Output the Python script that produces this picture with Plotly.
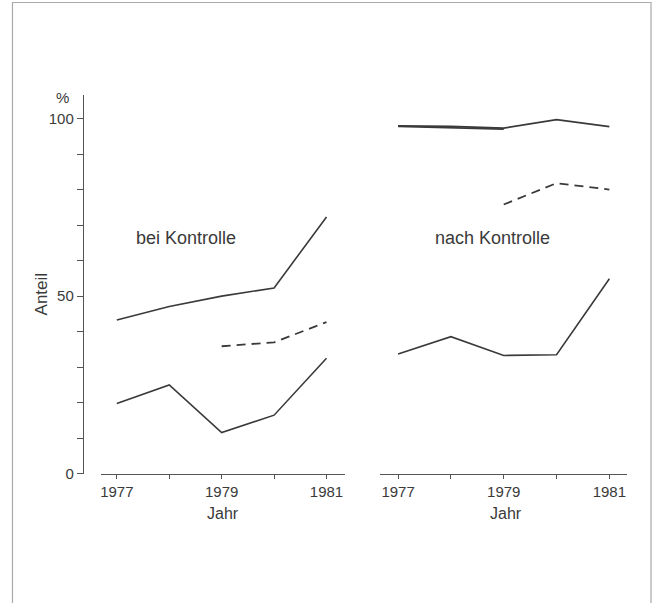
import plotly.graph_objects as go

W, H = 659, 603
HE = 594  # effective drawing height observed in the viewer

years = [1977, 1978, 1979, 1980, 1981]
years_dash = [1979, 1980, 1981]
years_early = [1977, 1978, 1979]

# bei Kontrolle (left panel)
bei_upper = [43.3, 47.1, 50.0, 52.3, 72.3]
bei_dash = [35.9, 37.0, 42.7]
bei_lower = [19.8, 25.0, 11.6, 16.5, 32.5]

# nach Kontrolle (right panel)
nach_upper = [97.9, 97.8, 97.3, 99.7, 97.7]
nach_upper_b = [97.8, 97.4, 97.0]
nach_dash = [75.8, 81.8, 80.0]
nach_lower = [33.7, 38.6, 33.3, 33.5, 54.9]

y_ticks = list(range(0, 101, 10))
y_ticktext = [str(v) if v in (0, 50, 100) else "" for v in y_ticks]
x_ticktext = [str(v) if v in (1977, 1979, 1981) else "" for v in years]

LINE = "#3a3a3a"
TXT = "#3a3a3a"
FONT = "Liberation Sans"

def px(x):
    return x / W

def py(y):
    return 1 - y / HE

fig = go.Figure()

def add(x, y, xa, dash="solid", width=1.6):
    fig.add_trace(go.Scatter(x=x, y=y, xaxis=xa, yaxis="y", mode="lines",
                             line=dict(color=LINE, width=width, dash=dash),
                             showlegend=False, hoverinfo="skip"))

add(years, bei_upper, "x")
add(years_dash, bei_dash, "x", dash="9px,6px", width=1.8)
add(years, bei_lower, "x")
add(years, nach_upper, "x2", width=1.8)
add(years_early, nach_upper_b, "x2", width=1.8)
add(years_dash, nach_dash, "x2", dash="9px,6px", width=1.8)
add(years, nach_lower, "x2")

y_bottom, y_top = 473, 95
y_max = (y_bottom - y_top) / 3.547

xaxis_common = dict(
    tickmode="array", tickvals=years, ticktext=x_ticktext,
    showline=True, linecolor="#555", linewidth=1.2,
    ticks="outside", ticklen=4, tickcolor="#555", tickwidth=1.2,
    showgrid=False, zeroline=False,
    tickfont=dict(family=FONT, size=15, color=TXT),
    fixedrange=True,
)

fig.update_layout(
    width=W, height=H,
    margin=dict(l=0, r=0, t=0, b=0),
    paper_bgcolor="white", plot_bgcolor="white",
    xaxis=dict(domain=[px(100), px(345)],
               range=[1977 - 16 / 52.5, 1981 + 19 / 52.5],
               anchor="y", **xaxis_common),
    xaxis2=dict(domain=[px(380), px(627)],
                range=[1977 - 17.7 / 52.9, 1981 + 17.7 / 52.9],
                anchor="y", **xaxis_common),
    yaxis=dict(domain=[py(y_bottom), py(y_top)], range=[0, y_max],
               anchor="free", position=px(82),
               tickmode="array", tickvals=y_ticks, ticktext=y_ticktext,
               showline=True, linecolor="#555", linewidth=1.2,
               ticks="outside", ticklen=6, tickcolor="#555", tickwidth=1.2,
               showgrid=False, zeroline=False,
               tickfont=dict(family=FONT, size=15, color=TXT),
               fixedrange=True),
)

def ann(text, x, y, size=18, angle=0):
    fig.add_annotation(text=text, x=px(x), y=py(y), xref="paper", yref="paper",
                       showarrow=False, textangle=angle,
                       font=dict(family=FONT, size=size, color=TXT),
                       xanchor="center", yanchor="middle")

ann("%", 62, 97, size=15)
ann("Anteil", 41, 293, size=17, angle=-90)
ann("bei Kontrolle", 185, 238)
ann("nach Kontrolle", 492, 238)
ann("Jahr", 222, 513, size=16)
ann("Jahr", 506, 513, size=16)

# frame
fig.add_shape(type="rect", xref="paper", yref="paper",
              x0=px(11.5), x1=px(651), y0=py(620), y1=py(2.5),
              line=dict(color="#aaaaaa", width=1.2), fillcolor="rgba(0,0,0,0)")

fig.write_html(
    "out.html",
    config={"responsive": False, "displayModeBar": False},
    post_script="document.body.style.margin='0';document.body.style.overflow='hidden';document.documentElement.style.overflow='hidden';",
)
